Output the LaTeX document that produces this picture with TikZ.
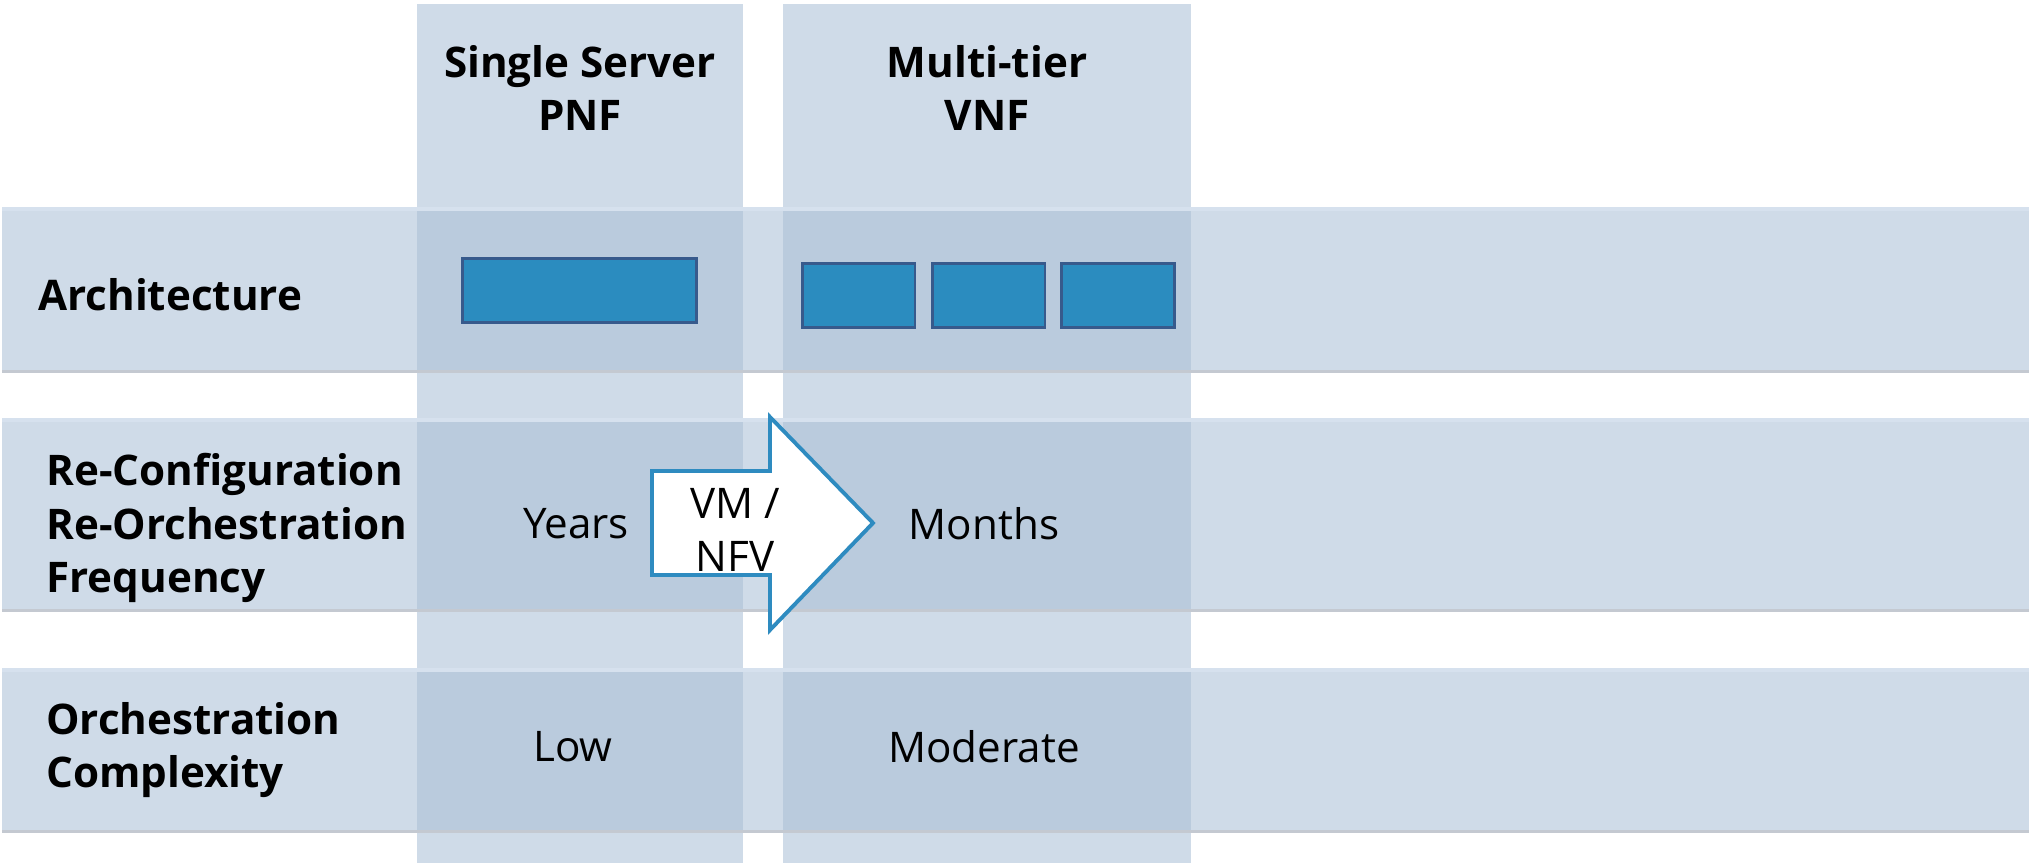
\documentclass[tikz,border=0pt]{standalone}
\usepackage{fontspec}
\setmainfont{Open Sans}
\usepackage{xcolor}
\usepackage{tikz}
\definecolor{NFBand}{RGB}{207,219,232}
\definecolor{NFCross}{RGB}{186,203,221}
\definecolor{NFShade}{RGB}{196,201,209}
\definecolor{NFTop}{RGB}{214,225,238}
\definecolor{NFBox}{RGB}{43,140,191}
\definecolor{NFBoxLine}{RGB}{55,90,140}
\definecolor{NFArrow}{RGB}{46,139,192}

\tikzset{
  rowlabel/.style={anchor=west,align=left,inner sep=0pt,font=\bfseries},
  colhead/.style={align=center,inner sep=0pt,font=\bfseries},
  cellval/.style={align=center,inner sep=0pt},
  fnbox/.style={draw=NFBoxLine,fill=NFBox,line width=1.7pt,inner sep=0pt,
    minimum height=1.28cm}
}

\begin{document}
\fontsize{24}{30.5}\selectfont
\begin{tikzpicture}[x=0.02cm,y=-0.02cm]
\path[use as bounding box] (0,0) rectangle (2029,863);
% row bands
\fill[NFBand] (2,207) rectangle (2029,370);
\fill[NFBand] (2,418) rectangle (2029,609);
\fill[NFBand] (2,668) rectangle (2029,830);
\fill[NFTop] (2,207) rectangle (2029,211);
\fill[NFTop] (2,418) rectangle (2029,422);
\fill[NFTop] (2,668) rectangle (2029,672);
\fill[NFShade] (2,370) rectangle (2029,373);
\fill[NFShade] (2,609) rectangle (2029,612);
\fill[NFShade] (2,830) rectangle (2029,833);
% column bands
\fill[NFBand] (417,4) rectangle (743,207);
\fill[NFBand] (417,373) rectangle (743,418);
\fill[NFBand] (417,612) rectangle (743,668);
\fill[NFBand] (417,833) rectangle (743,863);
\fill[NFBand] (783,4) rectangle (1191,207);
\fill[NFBand] (783,373) rectangle (1191,418);
\fill[NFBand] (783,612) rectangle (1191,668);
\fill[NFBand] (783,833) rectangle (1191,863);
% crossings
\fill[NFCross] (417,211) rectangle (743,370);
\fill[NFCross] (417,422) rectangle (743,609);
\fill[NFCross] (417,672) rectangle (743,830);
\fill[NFCross] (783,211) rectangle (1191,370);
\fill[NFCross] (783,422) rectangle (1191,609);
\fill[NFCross] (783,672) rectangle (1191,830);

% headers
\node[colhead] (pnfhead) at (580,88) {Single Server\\PNF};
\node[colhead] (vnfhead) at (987,88) {Multi-tier\\VNF};

% row labels
\node[rowlabel] (archlbl) at (38,295) {Architecture};
\node[rowlabel] (freqlbl) at (46,528) {Re-Configuration\\Re-Orchestration\\Frequency};
\node[rowlabel] (cplxlbl) at (46,750) {Orchestration\\Complexity};

% architecture boxes
\node[fnbox,minimum width=4.7cm] (pnfbox) at (579.5,290.5) {};
\node[fnbox,minimum width=2.26cm] (vnfa) at (858.5,295.5) {};
\node[fnbox,minimum width=2.26cm] (vnfb) at (988.5,295.5) {};
\node[fnbox,minimum width=2.26cm] (vnfc) at (1118,295.5) {};

% migration arrow
\draw[NFArrow,fill=white,line width=2.2pt,line join=miter]
  (652,471) -- (770,471) -- (770,417) -- (873,523) -- (770,630)
  -- (770,575) -- (652,575) -- cycle;
\node[cellval] (vmnfv) at (735,530) {VM /\\NFV};

% cell values
\node[cellval] (years) at (576,524) {Years};
\node[cellval] (months) at (984,524) {Months};
\node[cellval] (low) at (573,747) {Low};
\node[cellval] (moderate) at (984,747) {Moderate};
\end{tikzpicture}
\end{document}
